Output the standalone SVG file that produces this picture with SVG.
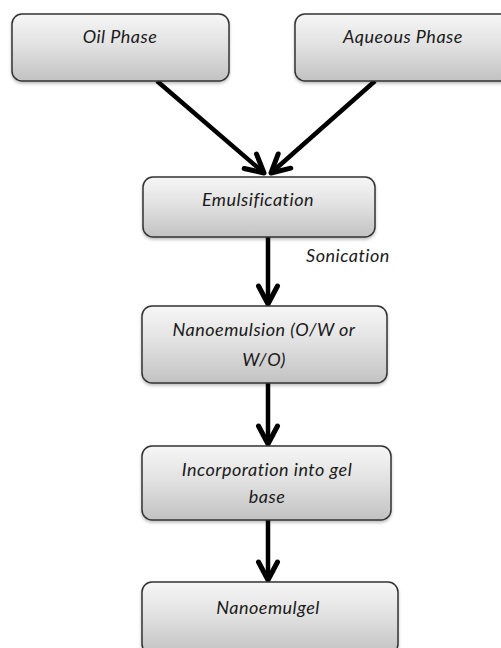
<svg xmlns="http://www.w3.org/2000/svg" width="501" height="648" viewBox="0 0 501 648">
<defs>
<linearGradient id="g" x1="0" y1="0" x2="0" y2="1">
<stop offset="0" stop-color="#f6f6f6"/>
<stop offset="0.45" stop-color="#e2e2e2"/>
<stop offset="1" stop-color="#c2c2c2"/>
</linearGradient>
<filter id="sh" x="-10%" y="-10%" width="120%" height="130%">
<feDropShadow dx="0" dy="2" stdDeviation="1.5" flood-color="#000" flood-opacity="0.25"/>
</filter>
<marker id="ah" viewBox="0 0 26 26" refX="21" refY="13" markerWidth="26" markerHeight="26" markerUnits="userSpaceOnUse" orient="auto">
<path d="M3,3.5 L21,13 L3,22.5" fill="none" stroke="#000" stroke-width="5" stroke-linejoin="round" stroke-linecap="round"/>
</marker>
</defs>
<style>
.box{fill:url(#g);stroke:#333;stroke-width:1.5;filter:url(#sh)}
.t{font-family:"Lato","Open Sans",sans-serif;font-style:italic;font-size:18px;letter-spacing:0.5px;fill:#1a1a1a;text-anchor:middle}
.c{stroke:#000;stroke-width:4.5;fill:none;marker-end:url(#ah)}
</style>
<rect width="501" height="648" fill="#fff"/>
<g id="connectors">
<line class="c" x1="157" y1="81" x2="264" y2="173"/>
<line class="c" x1="375" y1="81" x2="271" y2="173"/>
<line class="c" x1="268" y1="237" x2="268" y2="304"/>
<line class="c" x1="268" y1="383" x2="268" y2="444"/>
<line class="c" x1="268" y1="520" x2="268" y2="580"/>
<text class="t" x="348" y="262">Sonication</text>
</g>
<g id="oil">
<rect class="box" x="12" y="14" width="217" height="67" rx="10"/>
<text class="t" x="120" y="43">Oil Phase</text>
</g>
<g id="aqueous">
<rect class="box" x="295" y="14" width="217" height="67" rx="10"/>
<text class="t" x="403" y="43">Aqueous Phase</text>
</g>
<g id="emulsification">
<rect class="box" x="143" y="177" width="232" height="60" rx="10"/>
<text class="t" x="258" y="206">Emulsification</text>
</g>
<g id="nanoemulsion">
<rect class="box" x="142" y="306" width="245" height="77" rx="10"/>
<text class="t" x="264" y="336">Nanoemulsion (O/W or</text>
<text class="t" x="264" y="366">W/O)</text>
</g>
<g id="incorporation">
<rect class="box" x="142" y="446" width="249" height="74" rx="10"/>
<text class="t" x="267" y="476">Incorporation into gel</text>
<text class="t" x="267" y="503">base</text>
</g>
<g id="nanoemulgel">
<rect class="box" x="142" y="582" width="256" height="72" rx="10"/>
<text class="t" x="268" y="614">Nanoemulgel</text>
</g>
</svg>
